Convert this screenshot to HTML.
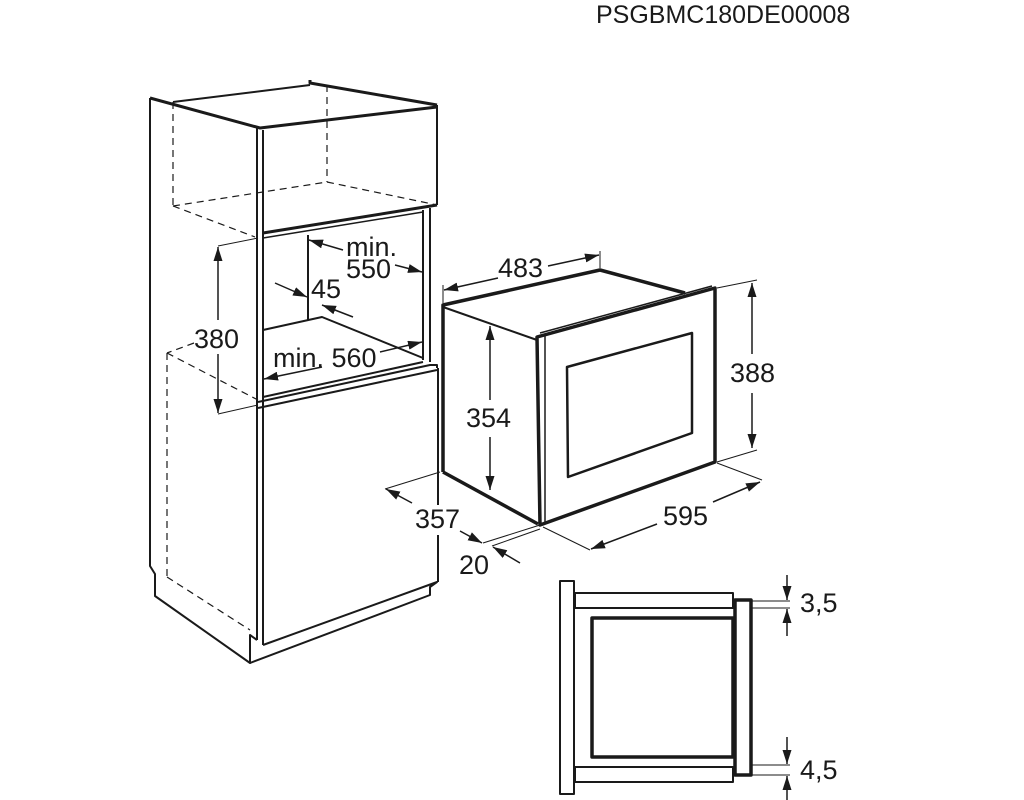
<!DOCTYPE html>
<html><head><meta charset="utf-8"><style>
html,body{margin:0;padding:0;background:#fff;}
svg{display:block}
text{font-family:"Liberation Sans",sans-serif;fill:#1a1a1a}
</style></head><body>
<svg width="1024" height="800" viewBox="0 0 1024 800" xmlns="http://www.w3.org/2000/svg">
<defs>
<marker id="a" viewBox="0 0 14 9" refX="14" refY="4.5" markerWidth="14" markerHeight="9" markerUnits="userSpaceOnUse" orient="auto"><path d="M0,0 L14,4.5 L0,9 Z" fill="#1a1a1a"/></marker>
</defs>
<text x="596" y="23" font-size="25">PSGBMC180DE00008</text>

<g fill="none" stroke="#1a1a1a" stroke-linejoin="round">
<polyline stroke-width="2" points="150,98 150,566 155,574 155,596 250,663 250,635 257,640"/>
<polyline stroke-width="3" points="150,98 260,128 437,107"/>
<line stroke-width="2" x1="173" y1="102" x2="310" y2="85"/>
<polyline stroke-width="3" points="310,80 310,83 437,105"/>
<line stroke-width="2" x1="257" y1="128" x2="257" y2="640"/>
<line stroke-width="2" x1="263" y1="130" x2="263" y2="645"/>
<line stroke-width="2" x1="437" y1="105" x2="437" y2="205"/>
<line stroke-width="3" x1="263" y1="233" x2="437" y2="205"/>
<line stroke-width="1.5" x1="263" y1="238" x2="423" y2="212"/>
<line stroke-width="2" x1="423" y1="210" x2="423" y2="360"/>
<line stroke-width="2" x1="430" y1="208" x2="430" y2="362"/>
<line stroke-width="2" x1="308" y1="235" x2="308" y2="320"/>
<polyline stroke-width="2" points="263,330 322,317 423,358"/>
<line stroke-width="2" x1="263" y1="397" x2="423" y2="362"/>
<polyline stroke-width="2" points="258,402 430,365 437,365 437,368"/>
<line stroke-width="2" x1="258" y1="408" x2="437" y2="370"/>
<polyline stroke-width="2" points="263,645 437,582 430,587 430,595 250,663"/>
<line stroke-width="2" x1="438" y1="368" x2="438" y2="505"/>
<line stroke-width="2" x1="438" y1="535" x2="438" y2="582"/>
<g stroke-width="1.2" stroke-dasharray="7,5">
<line x1="173" y1="102" x2="173" y2="206"/>
<line x1="173" y1="206" x2="255" y2="237"/>
<line x1="173" y1="206" x2="327" y2="182"/>
<line x1="327" y1="182" x2="437" y2="205"/>
<line x1="327" y1="85" x2="327" y2="182"/>
<line x1="167" y1="353" x2="167" y2="577"/>
<line x1="167" y1="353" x2="258" y2="400"/>
<line x1="167" y1="577" x2="250" y2="630"/>
<line x1="194" y1="343" x2="167" y2="353"/>
</g>
<line stroke-width="1" x1="218" y1="246" x2="258" y2="238"/>
<line stroke-width="1" x1="218" y1="414" x2="258" y2="405"/>
<line stroke-width="1.5" x1="218" y1="320" x2="218" y2="247" marker-end="url(#a)"/>
<line stroke-width="1.5" x1="218" y1="354" x2="218" y2="413" marker-end="url(#a)"/>
<line stroke-width="1.5" x1="343" y1="250" x2="309" y2="240" marker-end="url(#a)"/>
<line stroke-width="1.5" x1="395" y1="265" x2="422" y2="272" marker-end="url(#a)"/>
<line stroke-width="1.5" x1="275" y1="283" x2="307" y2="297" marker-end="url(#a)"/>
<line stroke-width="1.5" x1="353" y1="317" x2="322" y2="305" marker-end="url(#a)"/>
<line stroke-width="1.5" x1="322" y1="367" x2="264" y2="379" marker-end="url(#a)"/>
<line stroke-width="1.5" x1="380" y1="352" x2="422" y2="342" marker-end="url(#a)"/>

<polyline stroke-width="3.5" points="443,472 443,305 600,270 685,293"/>
<line stroke-width="2" x1="443" y1="307" x2="537" y2="340"/>
<line stroke-width="3.5" x1="443" y1="472" x2="538" y2="524"/>
<polygon stroke-width="3.5" points="537,337 715,288 715,462 540,525"/>
<line stroke-width="1.5" x1="545" y1="335" x2="545" y2="522"/>
<line stroke-width="1.5" x1="540" y1="333" x2="712" y2="286"/>
<polygon stroke-width="2.5" points="567,367 692,333 692,433 568,477"/>
<line stroke-width="1" x1="443" y1="303" x2="443" y2="285"/>
<line stroke-width="1" x1="600" y1="268" x2="600" y2="251"/>
<line stroke-width="1.5" x1="498" y1="278" x2="444" y2="290" marker-end="url(#a)"/>
<line stroke-width="1.5" x1="548" y1="266" x2="599" y2="255" marker-end="url(#a)"/>
<line stroke-width="1.5" x1="490" y1="400" x2="490" y2="326" marker-end="url(#a)"/>
<line stroke-width="1.5" x1="490" y1="437" x2="490" y2="490" marker-end="url(#a)"/>
<line stroke-width="1" x1="717" y1="288" x2="757" y2="280"/>
<line stroke-width="1" x1="717" y1="462" x2="757" y2="450"/>
<line stroke-width="1.5" x1="752" y1="354" x2="752" y2="283" marker-end="url(#a)"/>
<line stroke-width="1.5" x1="752" y1="393" x2="752" y2="448" marker-end="url(#a)"/>
<line stroke-width="1" x1="717" y1="463" x2="762" y2="480"/>
<line stroke-width="1" x1="543" y1="527" x2="590" y2="550"/>
<line stroke-width="1.5" x1="657" y1="524" x2="591" y2="549" marker-end="url(#a)"/>
<line stroke-width="1.5" x1="713" y1="502" x2="760" y2="482" marker-end="url(#a)"/>
<line stroke-width="1" x1="440" y1="472" x2="385" y2="489"/>
<line stroke-width="1" x1="483" y1="543" x2="540" y2="525"/>
<line stroke-width="1" x1="492" y1="546" x2="540" y2="529"/>
<line stroke-width="1.5" x1="412" y1="503" x2="386" y2="489" marker-end="url(#a)"/>
<line stroke-width="1.5" x1="460" y1="531" x2="482" y2="543" marker-end="url(#a)"/>
<line stroke-width="1.5" x1="520" y1="563" x2="493" y2="547" marker-end="url(#a)"/>

<rect stroke-width="2" x="560" y="581" width="14" height="213"/>
<rect stroke-width="2" x="575" y="593" width="158" height="15"/>
<rect stroke-width="2" x="575" y="767" width="158" height="15"/>
<rect stroke-width="3.5" x="592" y="618" width="141" height="139"/>
<rect stroke-width="3.5" x="735" y="600" width="16" height="175"/>
<line stroke-width="1" x1="751" y1="601" x2="790" y2="601"/>
<line stroke-width="1" x1="751" y1="608" x2="790" y2="608"/>
<line stroke-width="1.5" x1="787" y1="575" x2="787" y2="600" marker-end="url(#a)"/>
<line stroke-width="1.5" x1="787" y1="636" x2="787" y2="609" marker-end="url(#a)"/>
<line stroke-width="1" x1="751" y1="765" x2="790" y2="765"/>
<line stroke-width="1" x1="751" y1="775" x2="790" y2="775"/>
<line stroke-width="1.5" x1="787" y1="737" x2="787" y2="764" marker-end="url(#a)"/>
<line stroke-width="1.5" x1="787" y1="800" x2="787" y2="776" marker-end="url(#a)"/>
</g>

<g font-size="27">
<text x="346" y="256">min.</text>
<text x="346" y="278">550</text>
<text x="311" y="298">45</text>
<text x="194" y="348">380</text>
<text x="273" y="367">min. 560</text>
<text x="498" y="277">483</text>
<text x="466" y="427">354</text>
<text x="730" y="382">388</text>
<text x="663" y="525">595</text>
<text x="415" y="528">357</text>
<text x="459" y="574">20</text>
<text x="800" y="612">3,5</text>
<text x="800" y="779">4,5</text>
</g>
</svg>
</body></html>
